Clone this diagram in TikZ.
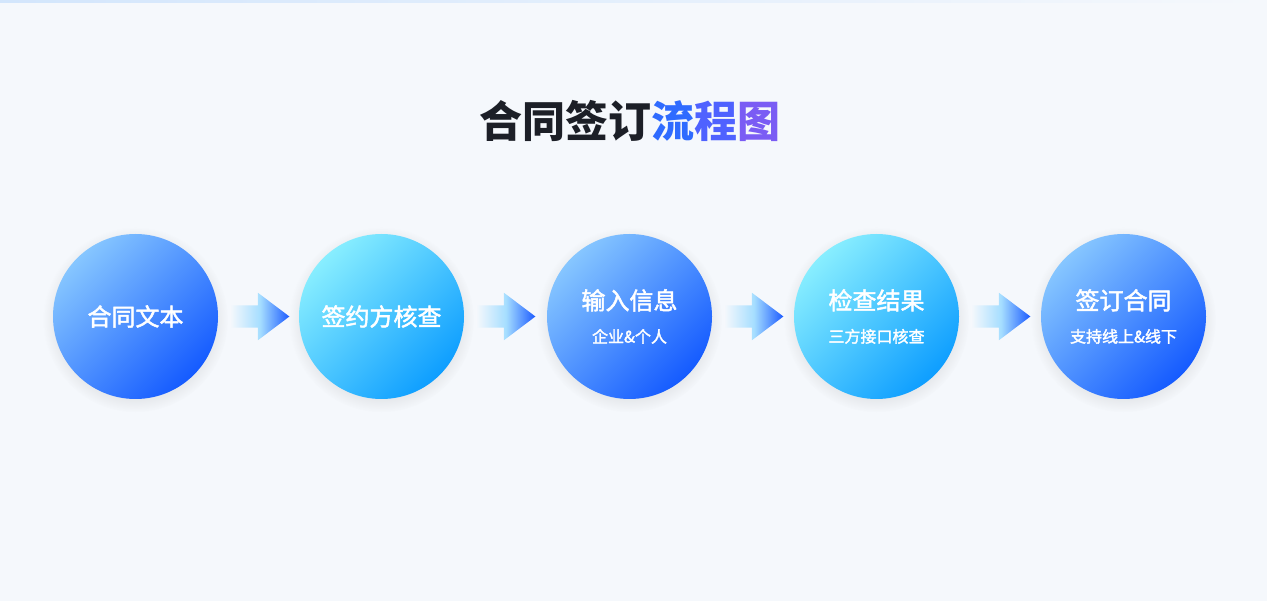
\documentclass[tikz,border=0pt]{standalone}
\usepackage{fontspec}
\setmainfont{Noto Sans CJK SC}
\newfontfamily\medfont{Noto Sans CJK SC}[BoldFont=Noto Sans CJK SC, BoldFeatures={FakeBold=2}]
\usetikzlibrary{shapes.arrows,shadows,calc}
\definecolor{bgcolor}{HTML}{F5F8FC}
\definecolor{stripcolor}{HTML}{D3E6FC}
\definecolor{titledark}{HTML}{1C1F27}
\definecolor{titleA}{HTML}{2F6BFF}
\definecolor{titleB}{HTML}{4F62FF}
\definecolor{titleC}{HTML}{7A5CF4}
\definecolor{blueA}{HTML}{86C6FF}
\definecolor{blueB}{HTML}{155BFF}
\definecolor{cyanA}{HTML}{88EEFF}
\definecolor{cyanB}{HTML}{0E9EFF}
\definecolor{arrowmid}{HTML}{A6DEFF}
\definecolor{arrowtip}{HTML}{1C5BFF}

\begin{document}
\begin{tikzpicture}[x=1pt, y=-1pt,
		node_base/.style={circle, minimum size=165pt, inner sep=0pt, text=white, align=center,
			font=\medfont\bfseries\fontsize{24}{28}\selectfont,
			circular drop shadow={shadow xshift=0pt, shadow yshift=-3pt, shadow scale=1.12, opacity=0.14, fill=black!45}},
		node_blue/.style={node_base, top color=blueA, bottom color=blueB, shading angle=45},
		node_cyan/.style={node_base, top color=cyanA, bottom color=cyanB, shading angle=45},
		flow_arrow/.style={single arrow, minimum height=59pt, inner xsep=0pt, inner ysep=11pt, anchor=tail,
			single arrow head extend=12.5pt, single arrow tip angle=74, single arrow head indent=0pt,
			left color=bgcolor, right color=arrowtip, middle color=arrowmid}]

		\fill[bgcolor] (0,0) rectangle (1267,601);
		\useasboundingbox (0,0) rectangle (1267,601);
		\fill[left color=stripcolor, right color=bgcolor] (0,0) rectangle (1267,3);

		\node[font=\bfseries\fontsize{43}{50}\selectfont] (title) at (630,121)
			{\textcolor{titledark}{合同签订}\textcolor{titleA}{流}\textcolor{titleB}{程}\textcolor{titleC}{图}};

		\node[node_blue] (n1) at (135.5,316.5) {\raisebox{-2pt}{合同文本}};
		\node[node_cyan] (n2) at (381.5,316.5) {\raisebox{-2pt}{签约方核查}};
		\node[node_blue] (n3) at (629.5,316.5) {输入信息\\[5pt]{\fontsize{16}{20}\selectfont 企业\&个人}};
		\node[node_cyan] (n4) at (876.5,316.5) {检查结果\\[5pt]{\fontsize{16}{20}\selectfont 三方接口核查}};
		\node[node_blue] (n5) at (1123.5,316.5) {签订合同\\[5pt]{\fontsize{16}{20}\selectfont 支持线上\&线下}};

		\node[flow_arrow] (a1) at ($(n1.east)+(12,0)$) {};
		\node[flow_arrow] (a2) at ($(n2.east)+(12,0)$) {};
		\node[flow_arrow] (a3) at ($(n3.east)+(12,0)$) {};
		\node[flow_arrow] (a4) at ($(n4.east)+(12,0)$) {};
\end{tikzpicture}
\end{document}
